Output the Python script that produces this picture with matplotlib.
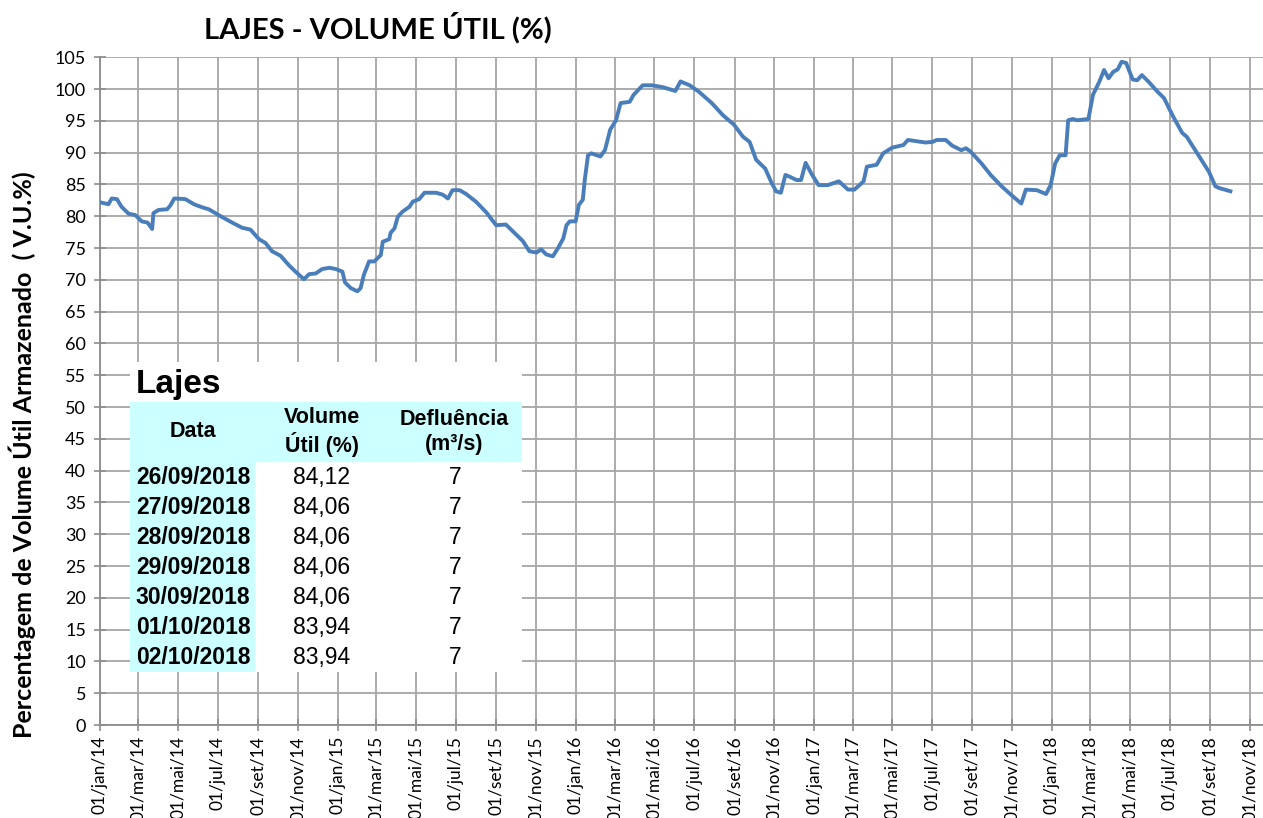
import numpy as np
import pandas as pd
import matplotlib
matplotlib.use("Agg")
import matplotlib.pyplot as plt
from matplotlib.patches import Rectangle

# dias desde 01/jan/2014 e volume util (%)
dias = [0, 13, 18, 26, 33, 44, 54, 64, 73, 80,
        82, 90, 103, 108, 114, 131, 144, 157, 167, 187,
        203, 218, 231, 244, 254, 264, 277, 290, 300, 313,
        321, 331, 341, 352, 362, 372, 376, 385, 395, 400,
        405, 413, 421, 431, 434, 444, 446, 452, 457, 464,
        475, 480, 490, 498, 516, 526, 534, 541, 552, 562,
        577, 593, 608, 623, 634, 649, 659, 670, 677, 685,
        695, 703, 711, 716, 721,
        730, 735, 741, 744, 749, 754, 768, 775, 783, 792,
        799, 813, 819, 833, 847, 864, 883, 891, 905, 919,
        939, 956, 973, 987, 997, 1007, 1021, 1031, 1038, 1045,
        1052, 1059, 1069, 1076, 1083, 1093, 1103, 1117, 1134, 1148,
        1158, 1172, 1177, 1192, 1202, 1216, 1233, 1240, 1254, 1267,
        1278, 1284, 1298, 1308, 1322, 1329, 1336, 1353, 1367, 1384,
        1397, 1414, 1421, 1438, 1452, 1459, 1466, 1473, 1482, 1486,
        1493, 1500, 1517, 1524, 1534, 1541, 1548, 1555, 1562, 1568,
        1575, 1585, 1592, 1599, 1609, 1623, 1633, 1647, 1661, 1668,
        1681, 1692, 1702, 1712, 1719, 1729, 1735]
volume = [82.2, 81.9, 82.8, 82.7, 81.5, 80.4, 80.2, 79.2, 79.0, 78.0,
          80.5, 81.0, 81.1, 81.7, 82.8, 82.7, 81.9, 81.4, 81.1, 79.9,
          79.0, 78.2, 77.9, 76.4, 75.8, 74.5, 73.8, 72.3, 71.3, 70.1,
          70.9, 71.0, 71.7, 71.9, 71.7, 71.3, 69.6, 68.7, 68.2, 68.7,
          70.8, 72.9, 72.9, 73.9, 76.0, 76.4, 77.4, 78.1, 79.9, 80.7,
          81.5, 82.3, 82.7, 83.7, 83.7, 83.4, 82.8, 84.1, 84.1, 83.5,
          82.3, 80.6, 78.6, 78.7, 77.6, 76.1, 74.5, 74.3, 74.8, 74.0,
          73.7, 75.0, 76.5, 78.6, 79.2,
          79.2, 81.8, 82.6, 85.7, 89.6, 89.9, 89.4, 90.4, 93.6, 95.1,
          97.8, 98.0, 99.1, 100.6, 100.6, 100.3, 99.7, 101.2, 100.6, 99.6,
          97.8, 95.9, 94.4, 92.5, 91.7, 88.9, 87.5, 85.2, 83.9, 83.7,
          86.5, 86.2, 85.7, 85.7, 88.4, 86.5, 84.9, 84.9, 85.5, 84.2,
          84.2, 85.5, 87.8, 88.1, 89.9, 90.8, 91.2, 92.0, 91.8, 91.6,
          91.7, 92.0, 92.0, 91.1, 90.4, 90.7, 90.2, 88.3, 86.5, 84.7,
          83.5, 82.0, 84.2, 84.1, 83.5, 84.9, 88.3, 89.6, 89.6, 95.1,
          95.3, 95.1, 95.3, 99.1, 101.2, 103.0, 101.7, 102.7, 103.1, 104.3,
          104.1, 101.5, 101.4, 102.2, 101.2, 99.6, 98.6, 95.7, 93.1, 92.5,
          90.4, 88.6, 87.0, 84.7, 84.4, 84.12, 83.94]

tab_datas = ["26/09/2018", "27/09/2018", "28/09/2018", "29/09/2018",
             "30/09/2018", "01/10/2018", "02/10/2018"]
tab_volume = ["84,12", "84,06", "84,06", "84,06", "84,06", "83,94", "83,94"]
tab_deflu = ["7", "7", "7", "7", "7", "7", "7"]

meses_pt = ["jan", "fev", "mar", "abr", "mai", "jun",
            "jul", "ago", "set", "out", "nov", "dez"]

inicio = pd.Timestamp("2014-01-01")
datas = inicio + pd.to_timedelta(dias, unit="D")
ticks = pd.date_range("2014-01-01", "2018-11-01", freq="2MS")
tick_labels = [f"01/{meses_pt[t.month - 1]}/{t.strftime('%y')}" for t in ticks]

W, H = 1263, 818
fig = plt.figure(figsize=(W / 100, H / 100), dpi=100)
ax = fig.add_axes([100 / W, 1 - 725 / H, (W - 100) / W, (725 - 57.3) / H])

ax.plot(datas, volume, color="#4A7EBB", lw=2.8, solid_joinstyle="round", zorder=3)

ax.set_ylim(0, 105)
ax.set_yticks(np.arange(0, 106, 5))
ax.set_xlim(inicio, inicio + pd.Timedelta(days=1785))
ax.set_xticks(ticks)
ax.set_xticklabels(tick_labels, rotation=90, va="top", ha="center")
ax.grid(True, color="#A6A6A6", lw=1.3)
ax.set_axisbelow(True)
for s in ["top", "right"]:
    ax.spines[s].set_visible(False)
for s in ["left", "bottom"]:
    ax.spines[s].set_color("#8C8C8C")
    ax.spines[s].set_linewidth(1.3)
ax.tick_params(axis="both", direction="inout", length=8, color="#8C8C8C", width=1.2)
ax.tick_params(axis="y", labelsize=13, pad=6)
ax.tick_params(axis="x", labelsize=12.5, pad=4)
for lb in ax.get_xticklabels() + ax.get_yticklabels():
    lb.set_family("Lato")

fig.text(378 / W, 1 - 28 / H, "LAJES - VOLUME ÚTIL (%)", ha="center", va="center",
         fontsize=21, fontweight="bold", family="Lato")
fig.text(22 / W, 1 - 455 / H, "Percentagem de Volume Útil Armazenado  ( V.U.%)",
         rotation=90, ha="center", va="center", fontsize=18, fontweight="bold", family="Lato")

# quadro com os ultimos valores
tab = fig.add_axes([130 / W, 1 - 672 / H, 392 / W, 310 / H])
tab.set_xlim(130, 522)
tab.set_ylim(672, 362)
tab.set_facecolor("white")
tab.axis("off")
tab.add_patch(Rectangle((130, 362), 392, 310, color="white", zorder=0))
tab.add_patch(Rectangle((130, 402), 392, 59, color="#CCFFFF", zorder=1))
tab.add_patch(Rectangle((130, 461), 124, 211, color="#CCFFFF", zorder=1))
fnt = "Liberation Sans"
tab.text(136, 385, "Lajes", fontsize=24, fontweight="bold", family=fnt, va="center", ha="left", zorder=2)
tab.text(193, 432, "Data", fontsize=15.5, fontweight="bold", family=fnt, ha="center", va="center", zorder=2)
tab.text(322, 432, "Volume\nÚtil (%)", fontsize=15.5, fontweight="bold", family=fnt,
         ha="center", va="center", linespacing=1.2, zorder=2)
tab.text(454, 432, "Defluência\n(m³/s)", fontsize=15.5, fontweight="bold", family=fnt,
         ha="center", va="center", linespacing=1.2, zorder=2)
for i in range(len(tab_datas)):
    yy = 478 + 30 * i
    tab.text(193, yy, tab_datas[i], fontsize=16.5, fontweight="bold", family=fnt,
             ha="center", va="center", zorder=2)
    tab.text(322, yy, tab_volume[i], fontsize=16.5, family=fnt, ha="center", va="center", zorder=2)
    tab.text(455, yy, tab_deflu[i], fontsize=16.5, family=fnt, ha="center", va="center", zorder=2)

fig.savefig("out.png", dpi=100)
